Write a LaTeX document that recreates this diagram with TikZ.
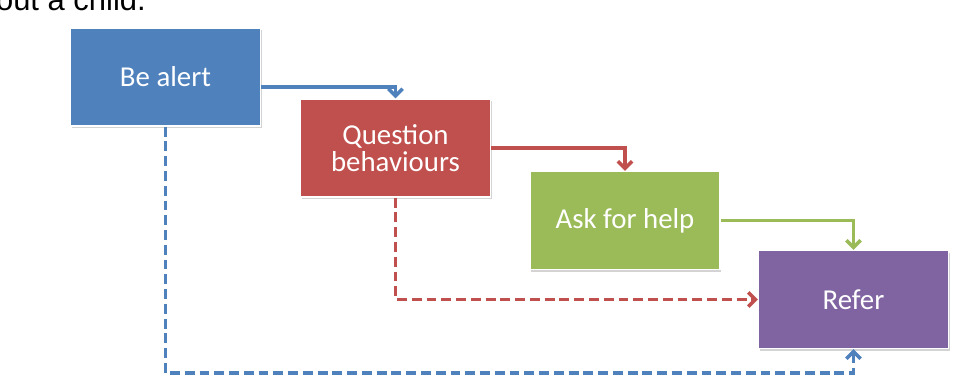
\documentclass[tikz,border=0pt]{standalone}
\usepackage{fontspec}
\setmainfont{Carlito}
\newfontfamily\headfont{Liberation Sans}
\usetikzlibrary{arrows.meta,calc,shadows}

\definecolor{alertblue}{HTML}{4F81BD}
\definecolor{askred}{HTML}{C0504D}
\definecolor{helpgreen}{HTML}{9BBB59}
\definecolor{referpurple}{HTML}{8064A2}

\begin{document}
\begin{tikzpicture}[x=0.025cm, y=-0.025cm,
    stepbox/.style={draw=white, line width=1pt, text=white,
      minimum width=4.75cm, minimum height=2.45cm, align=center,
      font=\fontsize{20.5}{19.5}\selectfont,
      drop shadow={shadow xshift=1pt, shadow yshift=-1.5pt, opacity=0.35}},
    link/.style={line width=2.5pt, -{Straight Barb[length=5pt,width=10pt]}},
    dashlink/.style={link, dash pattern=on 7pt off 3.5pt}]
    \useasboundingbox (0,0) rectangle (969,381);
    \clip (0,0) rectangle (969,381);
    %% Cut-off caption above
    \node[anchor=base east, inner sep=0pt, font=\headfont\fontsize{22}{22}\selectfont]
      (caption) at (146,11) {out a child.};
    %% Steps
    \node[stepbox, fill=alertblue] (alert) at (165.5,77) {Be alert};
    \node[stepbox, fill=askred] (question) at (395.5,148) {Question\\behaviours};
    \node[stepbox, fill=helpgreen] (help) at (625,220.5) {Ask for help};
    \node[stepbox, fill=referpurple] (refer) at (853.5,299.5) {Refer};
    %% Solid links
    \draw[link, alertblue] ($(alert.east)+(0,10)$) -| (question.north);
    \draw[link, askred] (question.east) -| (help.north);
    \draw[link, helpgreen] (help.east) -| (refer.north);
    %% Dashed links
    \draw[dashlink, askred] (question.south) |- (refer.west);
    \coordinate (low) at ($(refer.south)+(0,24)$);
    \draw[dashlink, alertblue] (alert.south) |- (low) -- (refer.south);
\end{tikzpicture}
\end{document}
